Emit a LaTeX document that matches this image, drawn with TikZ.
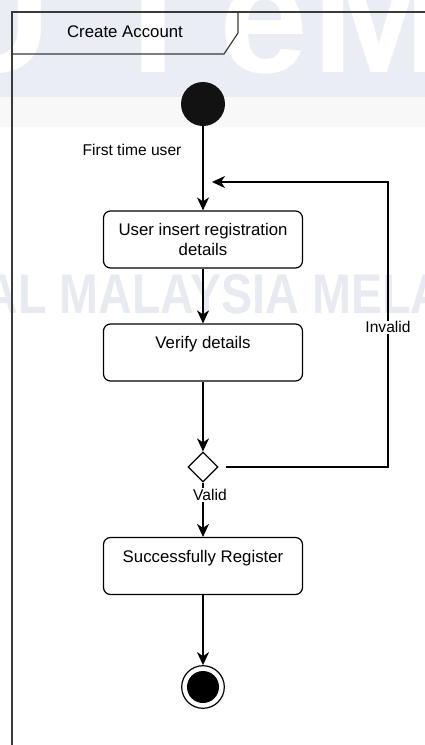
\documentclass[tikz,border=0pt]{standalone}
\usepackage{fontspec}
\setmainfont{Liberation Sans}
\usetikzlibrary{arrows.meta,shapes.geometric}

\definecolor{wmblue}{HTML}{EAEDF4}
\definecolor{wmgray}{HTML}{F8F8F8}
\definecolor{wmtext}{HTML}{E8EAF1}
\definecolor{framegray}{HTML}{3A3A3A}

\tikzset{
    action/.style={draw, rounded corners=7pt, line width=1.2pt, minimum width=199pt,
        minimum height=57pt, inner sep=0pt, align=center, font=\fontsize{16.8}{20}\selectfont},
    flow/.style={-{Stealth[length=13pt,width=12pt,inset=4pt]}, line width=1.3pt},
    lbl/.style={fill=white, inner sep=1pt, font=\fontsize{15.6}{18}\selectfont},
    wmletter/.style={inner sep=0pt, text=white, font=\fontsize{160}{160}\selectfont\bfseries},
}

\begin{document}
\begin{tikzpicture}[x=1pt, y=-1pt]
    \useasboundingbox (0,0) rectangle (425,745);
    \clip (0,0) rectangle (425,745);

    % faint logo in the background
    \fill[wmblue] (0,0) rectangle (425,97);
    \fill[wmgray] (0,97) rectangle (425,127);
    \node[wmletter, anchor=base east] (wmu) at (51,72) {U};
    \node[wmletter, anchor=base] (wmt) at (153,72) {T};
    \node[wmletter, anchor=base west] (wme) at (219,72) {e};
    \node[wmletter, anchor=base west] (wmm) at (312,72) {M};
    \node[inner sep=0pt, anchor=base west, text=wmtext, font=\fontsize{56}{56}\selectfont\bfseries]
        (wmname) at (-15.6,313) {\scalebox{0.834}[1]{AL MALAYSIA MELA}};

    % frame with its name tab
    \draw[framegray, line width=1.2pt] (12,745) -- (12,12) -- (425,12);
    \draw[framegray, line width=1.2pt] (12,54) -- (224,54) -- (238,33) -- (238,12);
    \node[font=\fontsize{16.8}{20}\selectfont] (title) at (125,32) {Create Account};

    % nodes
    \node[circle, fill=black!93, minimum size=44pt, inner sep=0pt] (start) at (203,104) {};
    \node[action] (entry) at (203,239.5) {User insert registration\\details};
    \node[action] (verify) at (203,352.5) {Verify details\\\mbox{}};
    \node[diamond, draw, line width=1.2pt, fill=white, minimum size=30pt, inner sep=0pt] (dec) at (203,467) {};
    \node[action] (reg) at (203,566) {Successfully Register\\\mbox{}};
    \node[circle, draw, line width=1.2pt, fill=white, minimum size=42.6pt, inner sep=0pt] (finish) at (203,687) {};
    \fill[black] (finish.center) circle (16pt);

    \coordinate (turn) at (388,182);
    \coordinate (back) at (212,182);

    % connectors
    \draw[flow] (start) -- (entry);
    \node[font=\fontsize{15.6}{18}\selectfont] (firsttime) at (132,150) {First time user};
    \draw[flow] (entry) -- (verify);
    \draw[flow] (verify) -- (dec);
    \draw[flow] (dec) -- node[lbl, pos=0.23, xshift=7pt] {Valid} (reg);
    \draw[flow] (reg) -- (finish);
    \draw[flow] ([xshift=7pt]dec.east) -| node[lbl, pos=0.745] {Invalid} (turn) -- (back);
\end{tikzpicture}
\end{document}
